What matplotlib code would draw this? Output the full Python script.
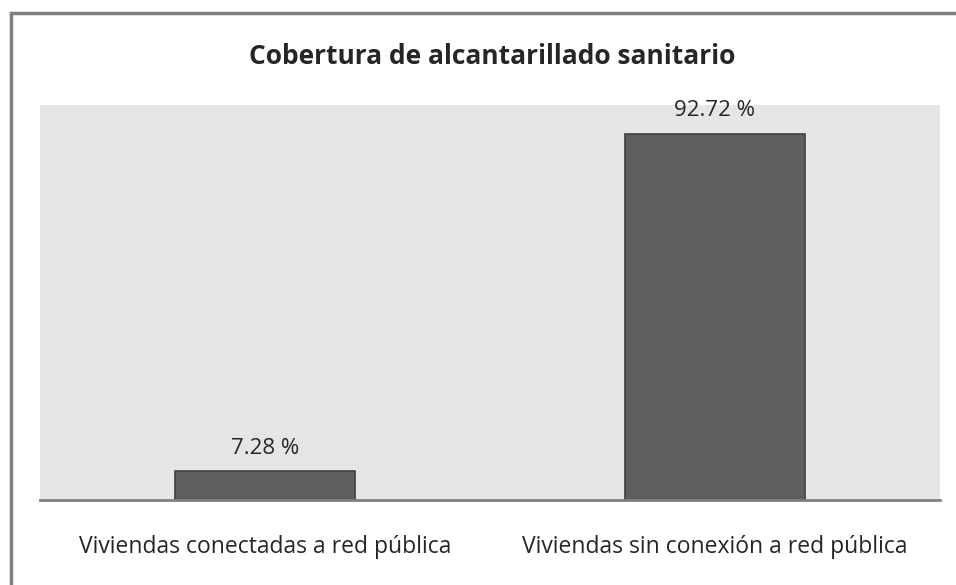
import matplotlib
matplotlib.use("Agg")
import matplotlib.pyplot as plt
from matplotlib.patches import Rectangle

categories = ["Viviendas conectadas a red pública", "Viviendas sin conexión a red pública"]
values = [7.28, 92.72]
value_labels = ["7.28 %", "92.72 %"]
title = "Cobertura de alcantarillado sanitario"

plt.rcParams['font.family'] = ['Open Sans', 'DejaVu Sans']

W, H = 956, 585
fig = plt.figure(figsize=(W/100, H/100), dpi=100)
fig.patch.set_facecolor("white")

# outer frame (top and left visible, extends past right/bottom)
fig.add_artist(Rectangle((11/W, -0.1), 1.2, 1 - 13/H + 0.1, transform=fig.transFigure,
                         fill=False, edgecolor="#808080", linewidth=2.5))

ax = fig.add_axes([40/W, 1 - 500/H, 900/W, 395/H])
ax.set_facecolor("#e5e5e5")
x = list(range(len(categories)))
ax.bar(x, values, width=0.4, color="#5f5f5f", edgecolor="#404040", linewidth=1.2, zorder=3)
ax.set_xlim(-0.5, 1.5)
ax.set_ylim(0, 100)
for xi, v, lab in zip(x, values, value_labels):
    ax.annotate(lab, (xi, v), xytext=(0, 9), textcoords="offset points",
                ha="center", va="bottom", fontsize=16, color="#262626", zorder=4)
for s in ["top", "right", "left"]:
    ax.spines[s].set_visible(False)
ax.spines["bottom"].set_color("#808080")
ax.spines["bottom"].set_linewidth(2)
ax.spines["bottom"].set_zorder(5)
ax.set_yticks([])
ax.set_xticks(x)
ax.set_xticklabels(categories, fontsize=16.5, color="#262626")
ax.tick_params(axis="x", length=0, pad=25)

fig.text(0.5146, 1 - 56/H, title, ha="center", va="center", fontsize=19,
         fontweight="bold", color="#262626")

fig.savefig("out.png", dpi=100)
